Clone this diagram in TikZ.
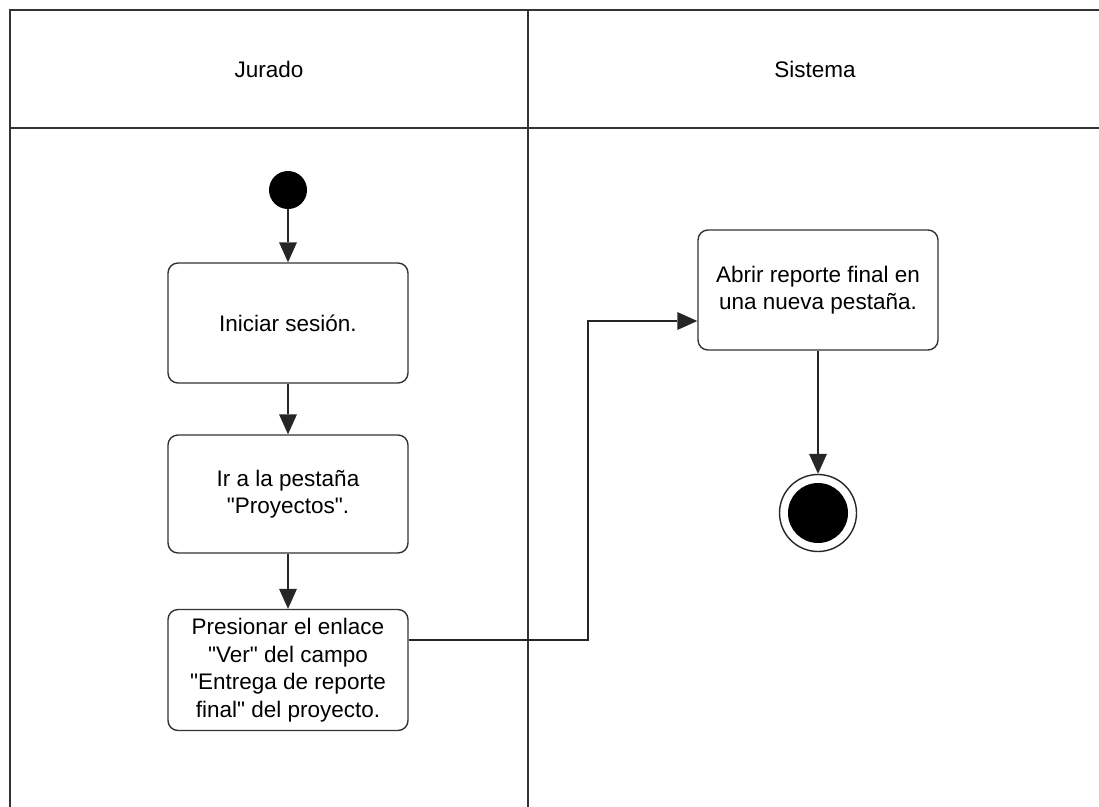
\documentclass[tikz,border=0pt]{standalone}
\usepackage{fontspec}
\setmainfont{Liberation Sans}[Ligatures=TeXOff]
\usetikzlibrary{arrows.meta}
\begin{document}
\begin{tikzpicture}[x=1pt,y=-1pt,
  lane/.style={draw=black!80,line width=1.6pt},
  act/.style={draw=black!80,line width=1.4pt,rounded corners=10pt,minimum width=240pt,minimum height=120pt,inner sep=2pt,align=center,font=\fontsize{22.5}{27.5}\selectfont},
  flow/.style={draw=black!85,line width=1.4pt,-{Triangle[width=18pt,length=20pt,line width=0pt]}},
  lbl/.style={font=\fontsize{22.5}{27.5}\selectfont}]
\useasboundingbox (0,0) rectangle (1099,806);
% swimlanes
\draw[lane] (10,812) -- (10,10) -- (1110,10);
\draw[lane] (10,128) -- (1110,128);
\draw[lane] (528,10) -- (528,812);
\node[lbl] (hj) at (269,69) {Jurado};
\node[lbl] (hs) at (815,69) {Sistema};
% nodes
\node[circle,fill=black,minimum size=38pt,inner sep=0pt] (start) at (288,190) {};
\node[act] (a1) at (288,323) {Iniciar sesión.};
\node[act,minimum height=118pt] (a2) at (288,494) {Ir a la pestaña\\ "Proyectos".};
\node[act,minimum height=121pt] (a3) at (288,670) {Presionar el enlace\\ "Ver" del campo\\ "Entrega de reporte\\ final" del proyecto.};
\node[act] (a4) at (818,290) {Abrir reporte final en\\ una nueva pestaña.};
\node[circle,draw=black!85,line width=1.4pt,minimum size=77pt,inner sep=0pt] (end) at (818,513) {};
\node[circle,fill=black,minimum size=60pt,inner sep=0pt] (endin) at (end.center) {};
% flows
\draw[flow] (start) -- (a1);
\draw[flow] (a1) -- (a2);
\draw[flow] (a2) -- (a3);
\coordinate (c1) at (588,640);
\coordinate (c2) at (588,321);
\draw[flow] (a3.east |- c1) -- (c1) -- (c2) -- (a4.west |- c2);
\draw[flow] (a4) -- (end);
\end{tikzpicture}
\end{document}
